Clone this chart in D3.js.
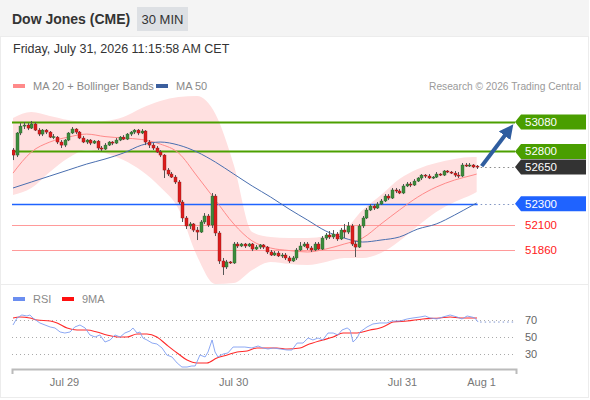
<!DOCTYPE html>
<html>
<head>
<meta charset="utf-8">
<script src="https://cdn.jsdelivr.net/npm/d3@7/dist/d3.min.js"></script>
<style>
  html, body { margin: 0; padding: 0; background: #fff; }
  svg { display: block; font-family: Arial, "Liberation Sans", sans-serif; }
  .muted { fill: #8a8a8a; font-size: 11px; }
  .lvl-txt { fill: #fff; font-size: 11.5px; }
</style>
</head>
<body>
<svg id="chart" width="590" height="400"></svg>
<script>
// Dow Jones (CME) 30-minute chart: candles, MA20 + Bollinger, MA50, key levels, RSI panel.

// --- data ---
// one row per 30-min candle: [open, high, low, close]
const candles = [
  [52813,52832,52717,52765],[52765,52984,52746,52975],[52975,53070,52955,53041],[53041,53080,53013,53051],
  [53051,53070,53003,53022],[53022,53089,53013,53061],[53061,53080,52994,53003],[53003,53022,52946,52965],
  [52965,53013,52946,53003],[53003,53013,52965,52984],[52984,52994,52927,52936],[52936,52965,52917,52940],
  [52936,52946,52870,52889],[52889,52908,52832,52860],[52860,52917,52841,52908],[52908,52984,52898,52975],
  [52975,53032,52965,53013],[53013,53022,52965,52984],[52984,52994,52917,52927],[52927,52946,52879,52889],
  [52889,52917,52870,52908],[52908,52917,52860,52879],[52879,52908,52870,52898],[52898,52908,52813,52832],
  [52832,52851,52803,52822],[52822,52879,52813,52860],[52860,52898,52851,52889],[52889,52898,52860,52879],
  [52879,52927,52870,52908],[52908,52946,52898,52936],[52936,52955,52908,52917],[52917,52975,52908,52965],
  [52965,52994,52946,52984],[52984,53013,52965,53003],[53003,53013,52955,52975],[52975,53013,52965,52994],
  [52994,53003,52860,52889],[52889,52908,52832,52860],[52860,52879,52813,52832],[52832,52851,52784,52794],
  [52794,52813,52746,52765],[52765,52774,52546,52622],[52622,52641,52565,52584],[52584,52603,52546,52555],
  [52555,52574,52489,52508],[52508,52527,52298,52317],[52317,52336,52127,52165],[52165,52184,52060,52089],
  [52089,52127,52060,52108],[52108,52117,52031,52050],[52050,52079,51955,52031],[52031,52146,52022,52127],
  [52127,52212,52108,52184],[52184,52203,52079,52098],[52098,52403,52070,52374],[52374,52393,51993,52022],
  [52022,52041,51727,51755],[51755,51784,51622,51698],[51698,51765,51679,51746],[51746,51755,51727,51736],
  [51736,51936,51727,51917],[51917,51936,51879,51898],[51898,51927,51888,51917],[51917,51927,51879,51898],
  [51898,51927,51888,51917],[51917,51927,51850,51869],[51869,51908,51860,51888],[51888,51917,51869,51908],
  [51908,51917,51869,51888],[51888,51898,51822,51841],[51841,51860,51803,51812],[51812,51850,51803,51831],
  [51831,51850,51793,51803],[51803,51831,51784,51812],[51812,51831,51765,51784],[51784,51803,51736,51755],
  [51755,51803,51746,51784],[51784,51879,51765,51860],[51860,51936,51850,51898],[51898,51936,51888,51917],
  [51917,51936,51860,51879],[51879,51898,51841,51860],[51860,51936,51850,51917],[51917,51936,51860,51869],
  [51869,51993,51860,51974],[51974,52022,51955,52003],[52003,52041,51965,51984],[51984,52050,51965,52012],
  [52012,52031,51946,51965],[51965,52070,51955,52050],[52050,52108,51974,52031],[52031,52127,52012,52089],
  [52089,52108,51898,51917],[51917,51946,51793,51888],[51888,52108,51879,52089],[52089,52184,52070,52165],
  [52165,52260,52155,52241],[52241,52298,52231,52279],[52279,52298,52241,52260],[52260,52317,52251,52298],
  [52298,52346,52289,52327],[52327,52393,52317,52374],[52374,52393,52336,52355],[52355,52451,52346,52432],
  [52432,52451,52403,52422],[52422,52441,52393,52403],[52403,52489,52393,52470],[52470,52508,52460,52489],
  [52489,52508,52460,52479],[52479,52536,52470,52517],[52517,52555,52508,52546],[52546,52584,52527,52574],
  [52574,52584,52546,52565],[52565,52584,52536,52546],[52546,52565,52536,52555],[52555,52603,52546,52584],
  [52584,52593,52565,52574],[52574,52622,52565,52613],[52613,52622,52593,52603],[52603,52613,52584,52593],
  [52593,52613,52555,52574],[52574,52603,52546,52565],[52565,52689,52555,52670],[52670,52689,52651,52660],
  [52660,52689,52651,52670],[52670,52679,52641,52651],[52660,52670,52632,52650]
];

// indicator samples (candle index -> value)
const bandIdx = [0,5,10,15,20,25,30,35,40,45,50,55,60,65,70,75,80,85,90,95,100,105,110,115,120,125,126];
const ma20    = [52593,52794,52889,52936,52965,52941,52927,52913,52870,52784,52565,52336,52108,51946,51879,51855,51841,51869,51917,51974,52108,52241,52365,52460,52527,52574,52584];
const bbUpper = [53118,53175,53137,53099,53080,53089,53127,53213,53280,53318,53327,53156,52670,52031,51984,51974,51974,51993,52050,52241,52384,52536,52632,52689,52727,52746,52746];
const bbLower = [52384,52450,52603,52736,52813,52784,52717,52613,52460,52251,51803,51536,51545,51669,51746,51727,51717,51746,51784,51784,51831,51946,52089,52222,52317,52393,52412];
const ma50    = [52451,52508,52565,52622,52679,52727,52784,52860,52889,52860,52794,52698,52584,52470,52365,52251,52146,52041,51974,51936,51955,51984,52060,52108,52193,52289,52308];

// key levels
const levels     = [53080, 52800, 52650, 52300, 52100, 51860];
const levelKinds = ["resistance", "resistance", "last", "pivot", "support", "support"];
const target     = 53080;

// RSI (14) and its 9-period MA, as [candle index, value]
const rsi = [
  [0,64.1],[1.1,72.4],[2.4,75.9],[3.8,74.7],[4.6,75.9],[5.4,72.4],[7.3,66.5],[8.7,64.1],[10.1,61.8],[11.4,60.6],
  [12.8,55.9],[14.1,54.7],[15.5,55.9],[16.8,61.8],[18.2,64.1],[19.6,60.6],[20.9,52.4],[22.3,50],[23.6,52.4],[25,44.1],
  [26.4,46.5],[27.7,52.4],[29.1,50],[30.4,54.7],[31.8,57.1],[32.6,60.6],[33.7,54.7],[34.5,55.9],[35.3,48.8],[36.4,46.5],
  [37.8,42.9],[39.1,41.8],[40.5,37.1],[41.8,28.8],[43.2,26.5],[44.6,19.4],[45.9,14.7],[47.3,14.7],[48.6,15.9],[49.5,15.9],
  [50.8,28.8],[52.2,26.5],[53,32.4],[54.1,46.5],[54.9,32.4],[55.7,26.5],[57.1,30],[58.4,31.2],[59.8,38.2],[61.1,38.2],
  [63,38.2],[64.9,37.1],[66.6,39.4],[67.9,37.1],[69.3,35.9],[70.7,37.1],[72.6,35.9],[74.5,34.7],[75.8,34.7],[77.2,42.9],
  [78.8,42.9],[80.2,48.8],[81.5,46.5],[82.9,48.8],[84.2,46.5],[85.6,54.7],[87,54.7],[88.3,52.4],[89.4,58.2],[90.8,60.6],
  [91.6,58.2],[92.4,44.1],[93.5,48.8],[94.3,55.9],[96.2,61.8],[97.8,65.3],[99.7,66.5],[101.6,66.5],[103,68.8],[105.2,68.8],
  [107.1,71.2],[108.7,72.4],[110.6,73.5],[112,74.7],[113.3,72.4],[115.2,71.2],[116.8,73.5],[118.8,75.9],[120.7,73.5],[122,71.2],
  [123.4,74.7],[124.7,73.5],[125.5,72.4],[126.4,67.6]
];
const rsiMa = [
  [0,72.4],[1.9,73.5],[4.6,72.4],[6.5,70],[10.1,68.8],[12,66.5],[14.7,60.6],[17.4,58.2],[20.1,58.2],[22.8,55.9],
  [25.5,52.4],[28.3,50],[31,50],[33.7,53.5],[36.4,53.5],[39.1,50],[41.8,40.6],[44.6,31.2],[47.3,22.9],[50,19.4],
  [52.7,19.4],[55.4,25.3],[58.2,28.8],[60.9,32.4],[63.6,33.5],[66.3,37.1],[69,37.1],[71.7,37.1],[74.5,35.9],[78,37.1],
  [79.9,40.6],[84.2,46.5],[87,50],[89.7,54.7],[93.5,54.7],[97,58.2],[99.7,60.6],[101.6,64.1],[103.3,67.6],[107.1,68.8],
  [111.4,71.2],[116,72.4],[118.8,73.5],[121.5,72.4],[124.2,72.4],[126.1,72.4]
];
const rsiTicks = [70, 50, 30];

// day ticks along the time axis (candle index of midnight)
const dayTickIdx    = [13.86, 59.8, 105.7, 127.2];
const dayTickLabels = ["Jul 29", "Jul 30", "Jul 31", "Aug 1"];

// --- frame ---
const W = 590, H = 400;
const PLOT_L = 12, PLOT_R = 515;
const MAIN_TOP = 36, MAIN_BOT = 284, RSI_BOT = 397;
const CLIP_TOP = 96;

const svg = d3.select("#chart");

// header strip + panels
svg.append("rect").attr("x", 0).attr("y", 0).attr("width", W - 1).attr("height", MAIN_TOP).attr("fill", "#f4f4f4");
svg.append("rect").attr("x", 0.5).attr("y", MAIN_TOP + 0.5).attr("width", W - 2).attr("height", MAIN_BOT - MAIN_TOP)
  .attr("fill", "#fff").attr("stroke", "#ececec");
svg.append("rect").attr("x", 0.5).attr("y", MAIN_BOT + 0.5).attr("width", W - 2).attr("height", RSI_BOT - MAIN_BOT)
  .attr("fill", "#fff").attr("stroke", "#ececec");

svg.append("text").attr("x", 12).attr("y", 24).attr("fill", "#333")
  .attr("font-size", 14).attr("font-weight", "bold").text("Dow Jones (CME)");
svg.append("rect").attr("x", 137).attr("y", 7).attr("width", 51).attr("height", 24).attr("fill", "#dde0e4");
svg.append("text").attr("x", 162.5).attr("y", 24).attr("text-anchor", "middle").attr("fill", "#333")
  .attr("font-size", 13).text("30 MIN");
svg.append("text").attr("x", 13).attr("y", 53).attr("fill", "#333").attr("font-size", 12.5)
  .text("Friday, July 31, 2026 11:15:58 AM CET");

// legend row
const legend = [
  { x: 13, color: "#ff8a8a", label: "MA 20 + Bollinger Bands" },
  { x: 156, color: "#3b5f9e", label: "MA 50" },
];
legend.forEach((d) => {
  svg.append("rect").attr("x", d.x).attr("y", 84).attr("width", 12).attr("height", 4).attr("fill", d.color);
  svg.append("text").attr("class", "muted").attr("x", d.x + 20).attr("y", 90).attr("font-size", 10.8).text(d.label);
});
svg.append("text").attr("x", 581).attr("y", 90).attr("text-anchor", "end")
  .attr("fill", "#9a9a9a").attr("font-size", 10.2).text("Research © 2026 Trading Central");

// --- scales ---
const x = d3.scaleLinear().domain([0, 126]).range([13, 13 + 126 * 3.68]);
const y = d3.scaleLinear().domain([51860, 53080]).range([250, 122]);
const yr = d3.scaleLinear().domain([30, 70]).range([354, 320]);

svg.append("clipPath").attr("id", "clipMain").append("rect")
  .attr("x", PLOT_L).attr("y", CLIP_TOP).attr("width", PLOT_R - PLOT_L).attr("height", MAIN_BOT - CLIP_TOP);
svg.append("clipPath").attr("id", "clipRsi").append("rect")
  .attr("x", PLOT_L).attr("y", 300).attr("width", 516 - PLOT_L).attr("height", 70);

const gMain = svg.append("g").attr("clip-path", "url(#clipMain)");

// Bollinger band fill
const bandRows = bandIdx.map((i, k) => ({ i, up: bbUpper[k], lo: bbLower[k], mid: ma20[k], slow: ma50[k] }));
gMain.append("path").datum(bandRows).attr("fill", "#ffe0e0")
  .attr("d", d3.area().curve(d3.curveMonotoneX).x((d) => x(d.i)).y0((d) => y(d.lo)).y1((d) => y(d.up)));

// level lines
const lastX = x(candles.length - 1);
const lvlStyle = {
  resistance: { stroke: "#4ca000", width: 2 },
  support: { stroke: "#ff9a9a", width: 1 },
  pivot: { stroke: "#1f63ff", width: 1.5 },
};
levels.forEach((v, k) => {
  const kind = levelKinds[k];
  const yy = Math.round(y(v)) + 0.5;
  if (kind === "last") {
    gMain.append("line").attr("x1", lastX + 4).attr("x2", PLOT_R).attr("y1", yy).attr("y2", yy)
      .attr("stroke", "#888").attr("stroke-dasharray", "1.5,3");
    return;
  }
  const st = lvlStyle[kind];
  const x2 = kind === "pivot" ? lastX + 1 : PLOT_R;
  gMain.append("line").attr("x1", PLOT_L).attr("x2", x2).attr("y1", yy).attr("y2", yy)
    .attr("stroke", st.stroke).attr("stroke-width", st.width);
  if (kind === "pivot") {
    gMain.append("line").attr("x1", x2 + 3).attr("x2", PLOT_R).attr("y1", yy).attr("y2", yy)
      .attr("stroke", "#7f93c0").attr("stroke-dasharray", "1.5,3");
  }
});

// moving averages
gMain.append("path").datum(bandRows).attr("fill", "none").attr("stroke", "#ff8a8a").attr("stroke-width", 1)
  .attr("d", d3.line().curve(d3.curveMonotoneX).x((d) => x(d.i)).y((d) => y(d.mid)));
gMain.append("path").datum(bandRows).attr("fill", "none").attr("stroke", "#4a6fb0").attr("stroke-width", 1)
  .attr("d", d3.line().curve(d3.curveMonotoneX).x((d) => x(d.i)).y((d) => y(d.slow)));

// candles
const cg = gMain.append("g").selectAll("g").data(candles).join("g");
cg.append("line")
  .attr("x1", (d, i) => Math.round(x(i)) + 0.5).attr("x2", (d, i) => Math.round(x(i)) + 0.5)
  .attr("y1", (d) => y(d[1])).attr("y2", (d) => y(d[2]))
  .attr("stroke", "#555").attr("stroke-width", 1);
cg.append("rect")
  .attr("x", (d, i) => Math.round(x(i)) - 1)
  .attr("width", 3)
  .attr("y", (d) => y(Math.max(d[0], d[3])))
  .attr("height", (d) => Math.max(1, Math.abs(y(d[0]) - y(d[3]))))
  .attr("fill", (d) => (d[3] >= d[0] ? "#3c8c3c" : "#dd1c1c"))
  .attr("stroke", (d) => (d[3] >= d[0] ? "#2c5f2c" : "#8a1a1a"))
  .attr("stroke-width", 0.4);

// target arrow
const defs = svg.append("defs");
defs.append("marker").attr("id", "ah").attr("viewBox", "0 0 10 10").attr("refX", 5).attr("refY", 5)
  .attr("markerWidth", 3.6).attr("markerHeight", 3.6).attr("orient", "auto")
  .append("path").attr("d", "M0,0L10,5L0,10z").attr("fill", "#2f5d9f");
const last = candles[candles.length - 1];
svg.append("line")
  .attr("x1", lastX + 5).attr("y1", y(last[3]) - 1)
  .attr("x2", PLOT_R - 6).attr("y2", y(target) + 8)
  .attr("stroke", "#2f5d9f").attr("stroke-width", 4).attr("marker-end", "url(#ah)");

// level tags on the right
const tagFill = { resistance: "#4a9e00", last: "#333333", pivot: "#1f63ff" };
levels.forEach((v, k) => {
  const kind = levelKinds[k];
  const yc = y(v);
  if (tagFill[kind]) {
    svg.append("path")
      .attr("d", `M${PLOT_R},${yc}L${PLOT_R + 6},${yc - 7.5}H586V${yc + 7.5}H${PLOT_R + 6}Z`)
      .attr("fill", tagFill[kind]);
    svg.append("text").attr("class", "lvl-txt").attr("x", 525).attr("y", yc + 4).text(v);
  } else {
    svg.append("text").attr("x", 525).attr("y", yc + 4).attr("fill", "#ff2020").attr("font-size", 11.5).text(v);
  }
});

// --- RSI panel ---
const rsiLegend = [
  { x: 13, color: "#6b8ef0", label: "RSI" },
  { x: 62, color: "#ff1010", label: "9MA" },
];
rsiLegend.forEach((d) => {
  svg.append("rect").attr("x", d.x).attr("y", 297).attr("width", 12).attr("height", 4).attr("fill", d.color);
  svg.append("text").attr("class", "muted").attr("x", d.x + 20).attr("y", 303).attr("font-size", 10.8).text(d.label);
});

svg.append("g").selectAll("line").data(rsiTicks).join("line")
  .attr("x1", PLOT_L).attr("x2", 516)
  .attr("y1", (d) => Math.round(yr(d)) + 0.5).attr("y2", (d) => Math.round(yr(d)) + 0.5)
  .attr("stroke", "#aaa").attr("stroke-dasharray", "1,3");
svg.append("g").selectAll("text").data(rsiTicks).join("text")
  .attr("x", 525).attr("y", (d) => yr(d) + 4).attr("fill", "#666").attr("font-size", 11).text((d) => d);

const gRsi = svg.append("g").attr("clip-path", "url(#clipRsi)");
const rsiLast = rsi[rsi.length - 1];
gRsi.append("line").attr("x1", x(rsiLast[0]) + 2).attr("x2", 516)
  .attr("y1", yr(rsiLast[1])).attr("y2", yr(rsiLast[1]))
  .attr("stroke", "#7f95d0").attr("stroke-dasharray", "1.5,3");
gRsi.append("path").datum(rsiMa).attr("fill", "none").attr("stroke", "#ff2a2a").attr("stroke-width", 1.1)
  .attr("d", d3.line().curve(d3.curveMonotoneX).x((d) => x(d[0])).y((d) => yr(d[1])));
gRsi.append("path").datum(rsi).attr("fill", "none").attr("stroke", "#7f9ef2").attr("stroke-width", 0.9)
  .attr("d", d3.line().x((d) => x(d[0])).y((d) => yr(d[1])));

// time axis
const xAxisScale = x.copy().domain([x.invert(PLOT_L), x.invert(516)]).range([PLOT_L, 516]);
const gAxis = svg.append("g").attr("transform", "translate(0,369)")
  .call(d3.axisBottom(xAxisScale).tickValues(dayTickIdx)
    .tickFormat((d, k) => dayTickLabels[k]).tickSizeInner(0).tickSizeOuter(5).tickPadding(9));
gAxis.select(".domain").attr("stroke", "#bbb").attr("stroke-width", 2);
gAxis.selectAll("text").attr("fill", "#777").attr("font-size", 11)
  .attr("font-family", 'Arial, "Liberation Sans", sans-serif');
</script>
</body>
</html>
